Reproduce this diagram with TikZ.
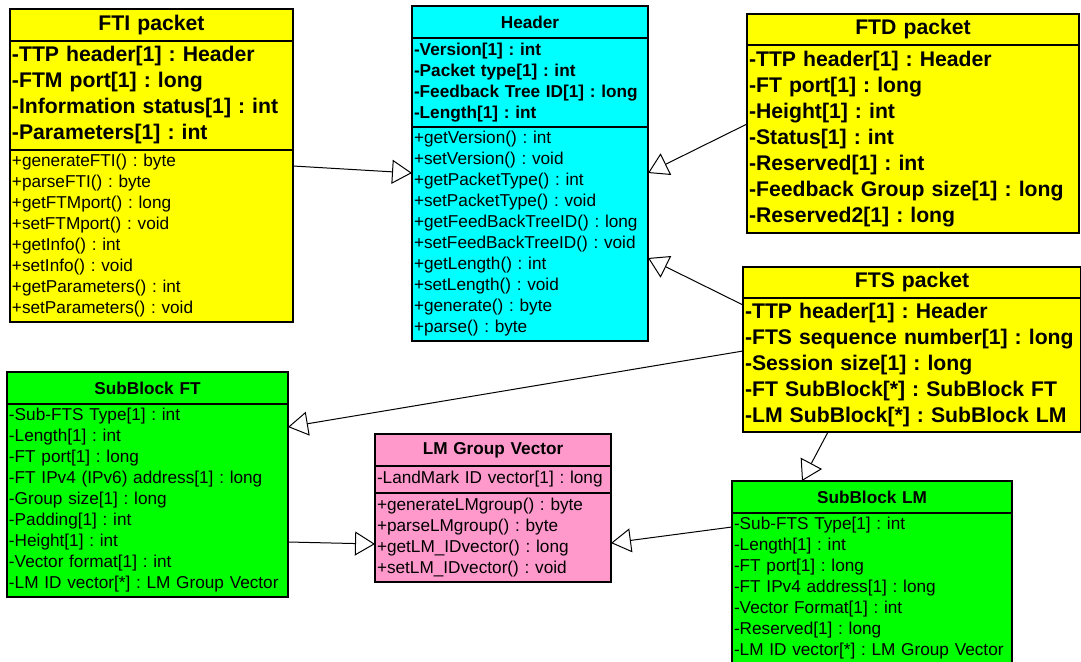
\documentclass[tikz,border=0pt]{standalone}
\usepackage{fontspec}
\setmainfont{Liberation Sans}
\usetikzlibrary{positioning,arrows.meta}
\usepackage{xcolor}
\definecolor{pktyellow}{RGB}{255,255,0}
\definecolor{hdrcyan}{RGB}{0,255,255}
\definecolor{subgreen}{RGB}{0,255,0}
\definecolor{vecpink}{RGB}{255,153,204}
\newcommand{\bigfont}{\fontsize{21.2}{26}\selectfont\bfseries}
\newcommand{\smallfont}{\fontsize{17.2}{21}\selectfont}
\frenchspacing
\hyphenpenalty=10000
\tikzset{
  clsband/.style={draw, line width=1.3pt, outer sep=0pt, inner xsep=2pt, inner ysep=0pt, align=left},
  clsname/.style={clsband, align=center},
  gen/.style={-{Triangle[open,length=20pt,width=24pt]}, line width=1pt},
}

\begin{document}
\begin{tikzpicture}[x=1pt,y=-1pt]
\useasboundingbox (0,0) rectangle (1081,661);
\clip (0,0) rectangle (1081,661);

% FTI packet class
\node[clsname, font=\bigfont, fill=pktyellow, text width=279pt, minimum height=32pt, anchor=north west] (ftiT) at (10,9) {FTI packet};
\node[clsband, font=\bigfont, fill=pktyellow, text width=279pt, minimum height=109pt, below=0pt of ftiT] (ftiA)
  {-TTP header[1] : Header\\-FTM port[1] : long\\-Information status[1] : int\\-Parameters[1] : int};
\node[clsband, font=\smallfont, fill=pktyellow, text width=279pt, minimum height=172pt, below=0pt of ftiA] (ftiM)
  {+generateFTI() : byte\\+parseFTI() : byte\\+getFTMport() : long\\+setFTMport() : void\\+getInfo() : int\\+setInfo() : void\\+getParameters() : int\\+setParameters() : void};

% Header class
\node[clsname, font=\smallfont\bfseries, fill=hdrcyan, text width=232pt, minimum height=32pt, anchor=north west] (hdrT) at (412,6) {Header};
\node[clsband, font=\smallfont\bfseries, fill=hdrcyan, text width=232pt, minimum height=89pt, below=0pt of hdrT] (hdrA)
  {-Version[1] : int\\-Packet type[1] : int\\-Feedback Tree ID[1] : long\\-Length[1] : int};
\node[clsband, font=\smallfont, fill=hdrcyan, text width=232pt, minimum height=214pt, below=0pt of hdrA] (hdrM)
  {+getVersion() : int\\+setVersion() : void\\+getPacketType() : int\\+setPacketType() : void\\+getFeedBackTreeID() : long\\+setFeedBackTreeID() : void\\+getLength() : int\\+setLength() : void\\+generate() : byte\\+parse() : byte};

% FTD packet class
\node[clsname, font=\bigfont, fill=pktyellow, text width=328pt, minimum height=31pt, anchor=north west] (ftdT) at (747,14) {FTD packet};
\node[clsband, font=\bigfont, fill=pktyellow, text width=328pt, minimum height=188pt, below=0pt of ftdT] (ftdA)
  {-TTP header[1] : Header\\-FT port[1] : long\\-Height[1] : int\\-Status[1] : int\\-Reserved[1] : int\\-Feedback Group size[1] : long\\-Reserved2[1] : long};

% FTS packet class
\node[clsname, font=\bigfont, fill=pktyellow, text width=334pt, minimum height=31pt, anchor=north west] (ftsT) at (743,267) {FTS packet};
\node[clsband, font=\bigfont, fill=pktyellow, text width=334pt, minimum height=134pt, below=0pt of ftsT] (ftsA)
  {-TTP header[1] : Header\\-FTS sequence number[1] : long\\-Session size[1] : long\\-FT SubBlock[*] : SubBlock FT\\-LM SubBlock[*] : SubBlock LM};

% SubBlock FT class
\node[clsname, font=\smallfont\bfseries, fill=subgreen, text width=277pt, minimum height=32pt, anchor=north west] (sbftT) at (7,372) {SubBlock FT};
\node[clsband, font=\smallfont, fill=subgreen, text width=277pt, minimum height=193pt, below=0pt of sbftT] (sbftA)
  {-Sub-FTS Type[1] : int\\-Length[1] : int\\-FT port[1] : long\\-FT IPv4 (IPv6) address[1] : long\\-Group size[1] : long\\-Padding[1] : int\\-Height[1] : int\\-Vector format[1] : int\\-LM ID vector[*] : LM Group Vector};

% LM Group Vector class
\node[clsname, font=\smallfont\bfseries, fill=vecpink, text width=232pt, minimum height=32pt, anchor=north west] (lmgvT) at (375,434) {LM Group Vector};
\node[clsband, font=\smallfont, fill=vecpink, text width=232pt, minimum height=27pt, below=0pt of lmgvT] (lmgvA)
  {-LandMark ID vector[1] : long};
\node[clsband, font=\smallfont, fill=vecpink, text width=232pt, minimum height=89pt, below=0pt of lmgvA] (lmgvM)
  {+generateLMgroup() : byte\\+parseLMgroup() : byte\\+getLM\_IDvector() : long\\+setLM\_IDvector() : void};

% SubBlock LM class (runs off the bottom edge)
\node[clsname, font=\smallfont\bfseries, fill=subgreen, text width=276pt, minimum height=32pt, anchor=north west] (sblmT) at (732,481) {SubBlock LM};
\node[clsband, font=\smallfont, fill=subgreen, text width=276pt, minimum height=151pt, below=0pt of sblmT] (sblmA)
  {-Sub-FTS Type[1] : int\\-Length[1] : int\\-FT port[1] : long\\-FT IPv4 address[1] : long\\-Vector Format[1] : int\\-Reserved[1] : long\\-LM ID vector[*] : LM Group Vector};

% Generalisation arrows
\foreach \sx/\sy/\sa/\dx/\dy/\da in {0/70/ftiM.east/0/61/hdrM.west,
                                     0/15/ftdA.west/0/61/hdrM.east,
                                     0/60/ftsA.west/0/-24/hdrM.east,
                                     0/14/ftsA.west/0/73.5/sbftA.east,
                                     -84/0/ftsA.south/-70/0/sblmT.north,
                                     0/-41.5/sbftA.east/0/-6.5/lmgvM.west,
                                     0/61.5/sblmA.west/0/-5.5/lmgvM.east} {
    \draw[gen] ([xshift=\sx pt, yshift=\sy pt]\sa) -- ([xshift=\dx pt, yshift=\dy pt]\da);
}
\end{tikzpicture}
\end{document}
